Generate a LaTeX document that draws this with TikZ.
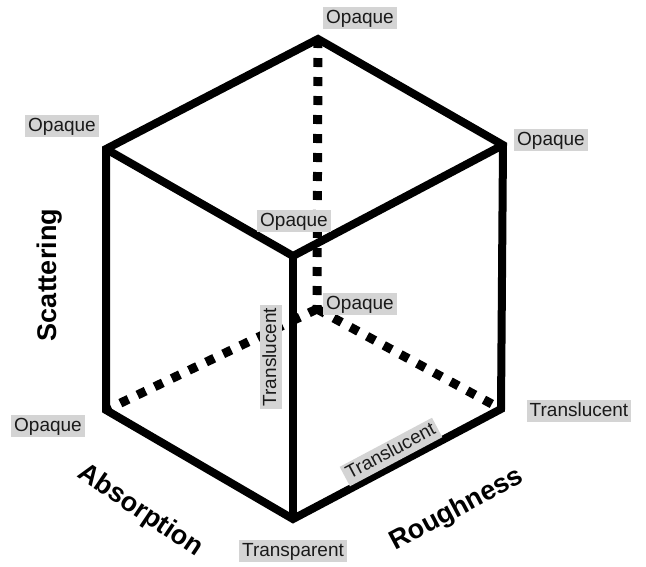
\documentclass[tikz,border=0pt]{standalone}
\usepackage{fontspec}
\setmainfont{Liberation Sans}
\usetikzlibrary{calc}

\definecolor{labelgray}{HTML}{D4D4D4}
\definecolor{inkgray}{HTML}{1A1A1A}

\tikzset{
  cubeedge/.style={line width=8pt, line join=miter},
  hiddenedge/.style={line width=9pt, dash pattern=on 9pt off 10pt},
  state/.style={fill=labelgray, text=inkgray, inner sep=2pt, inner xsep=3pt,
    text height=14pt, text depth=4pt, font=\fontsize{19}{22}\selectfont},
  axislabel/.style={font=\fontsize{27}{30}\selectfont\bfseries}
}

\begin{document}
\begin{tikzpicture}[x=1pt, y=-1pt]
    \useasboundingbox (0,0) rectangle (646,566);

    % cube corners
    \coordinate (top)   at (318,39);
    \coordinate (ul)    at (106,149);
    \coordinate (ur)    at (503,145);
    \coordinate (front) at (293,256);
    \coordinate (back)  at (317,309);
    \coordinate (ll)    at (106,410);
    \coordinate (lr)    at (501,409);
    \coordinate (bot)   at (293,519);

    % hidden edges
    \path (top)  edge[hiddenedge] (back)
          (back) edge[hiddenedge] (ll)
          (back) edge[hiddenedge] (lr);

    % visible edges
    \draw[cubeedge] (ll) -- (ul) -- (top) -- (ur) -- (lr) -- (bot) -- cycle;
    \draw[cubeedge] (ul) -- (front) -- (ur);
    \draw[cubeedge] (front) -- (bot);

    % corner states
    \node[state] (opq-top)   at (360,18)  {Opaque};
    \node[state] (opq-ur)    at (551,140) {Opaque};
    \node[state] (opq-ul)    at (62,126)  {Opaque};
    \node[state] (opq-front) at (294,221) {Opaque};
    \node[state] (opq-back)  at (360,304) {Opaque};
    \node[state] (opq-ll)    at (48,426)  {Opaque};
    \node[state] (trl-lr)    at (579,411) {Translucent};
    \node[state] (trp-bot)   at (293,551) {Transparent};
    \node[state, rotate=90]  (trl-front) at (271,357) {Translucent};
    \node[state, rotate=28]  (trl-edge)  at (391,452) {Translucent};

    % axes
    \node[axislabel, rotate=90]  (scattering) at (50,275)  {Scattering};
    \node[axislabel, rotate=-34] (absorption) at (140,511) {Absorption};
    \node[axislabel, rotate=28]  (roughness)  at (457,510) {Roughness};
  \end{tikzpicture}
\end{document}
